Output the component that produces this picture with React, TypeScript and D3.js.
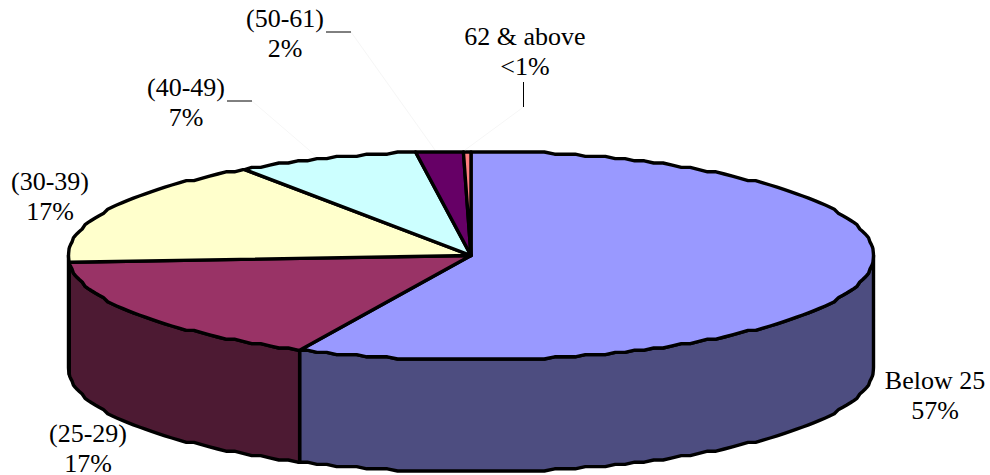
import React from 'react';
import * as d3 from 'd3';

const categories = ['Below 25', '(25-29)', '(30-39)', '(40-49)', '(50-61)', '62 & above'];
const shares = [57, 17, 16.5, 7.3, 1.9, 0.3];
const shareLabels = ['57%', '17%', '17%', '7%', '2%', '<1%'];
const topColors = ['#9999ff', '#993366', '#ffffcc', '#ccffff', '#660066', '#ff8080'];
const sideColors = ['#4d4d80', '#4d1a33', '#80806a', '#6a8080', '#330033', '#804040'];

const width = 990;
const height = 475;
const cx = 471;
const cy = 255.5;
const rx = 402.5;
const ry = 103.5;
const depth = 112;
const fontSize = 26;
const yGrid = 2.2; // the outline of the original is a slightly stepped polygon
const angleStep = (1.5 * Math.PI) / 180;

// label centre x and first baseline, same order as categories
const labelPos: [number, number][] = [
  [935, 389],
  [88, 442],
  [50, 190],
  [186, 96],
  [285, 27],
  [525, 45],
];
// black stub + nearly invisible line down to the slice
const leaders = [
  { stub: [[227, 101], [252, 101]], faint: [[252, 101], [316, 156]] },
  { stub: [[326, 32], [351, 32]], faint: [[351, 32], [435, 150]] },
  { stub: [[523.5, 82], [523.5, 107]], faint: [[523.5, 107], [465, 150]] },
];

const px = (a: number) => cx + rx * Math.sin(a);
// step measured from the ellipse's extreme, so top and bottom stay flat
const py = (a: number) => {
  const offset = -ry * Math.cos(a);
  const stepped = Math.round((ry - Math.abs(offset)) / yGrid - 0.3) * yGrid;
  return cy + Math.sign(offset) * Math.max(ry - Math.max(stepped, 0), 0);
};
const linePath = d3.line<number[]>().x(d => d[0]).y(d => d[1]);

// angles from a0 to a1 through the shared angle grid, so neighbours line up
const sweep = (a0: number, a1: number) => {
  const first = Math.ceil(a0 / angleStep);
  const last = Math.floor(a1 / angleStep);
  const inner = d3.range(first, last + 1).map(i => i * angleStep).filter(a => a > a0 && a < a1);
  return [a0, ...inner, a1];
};

const App = () => {
  const arcs = d3.pie<number>().sort(null).value(d => d)(shares);

  const topPath = (a0: number, a1: number) =>
    linePath([[cx, cy], ...sweep(a0, a1).map(a => [px(a), py(a)]), [cx, cy]]) + 'Z';

  // wall only exists on the front half of the ellipse
  const wallPath = (a0: number, a1: number) => {
    const from = Math.max(a0, Math.PI / 2);
    const to = Math.min(a1, (3 * Math.PI) / 2);
    if (to <= from) return null;
    const angles = sweep(from, to);
    const upper = angles.map(a => [px(a), py(a)]);
    const lower = [...angles].reverse().map(a => [px(a), py(a) + depth]);
    return linePath([...upper, ...lower]) + 'Z';
  };

  return (
    <svg
      width={width}
      height={height}
      style={{ position: 'absolute', left: 0, top: 0, background: '#fff' }}
      fontFamily="'Liberation Serif', serif"
      fontSize={fontSize}
    >
      <g stroke="#000" strokeWidth={3.4} strokeLinejoin="round">
        {arcs.map((d, i) => {
          const wall = wallPath(d.startAngle, d.endAngle);
          return wall ? <path key={i} d={wall} fill={sideColors[i]} /> : null;
        })}
        {arcs.map((d, i) => (
          <path key={i} d={topPath(d.startAngle, d.endAngle)} fill={topColors[i]} />
        ))}
      </g>
      {leaders.map((l, i) => (
        <g key={i} fill="none">
          <path d={linePath(l.faint as number[][]) as string} stroke="#f6f6f6" />
          <path d={linePath(l.stub as number[][]) as string} stroke="#000" />
        </g>
      ))}
      {categories.map((name, i) => (
        <text key={name} x={labelPos[i][0]} y={labelPos[i][1]} textAnchor="middle" fill="#000">
          <tspan x={labelPos[i][0]}>{name}</tspan>
          <tspan x={labelPos[i][0]} dy={29.5}>{shareLabels[i]}</tspan>
        </text>
      ))}
    </svg>
  );
};

export default App;
